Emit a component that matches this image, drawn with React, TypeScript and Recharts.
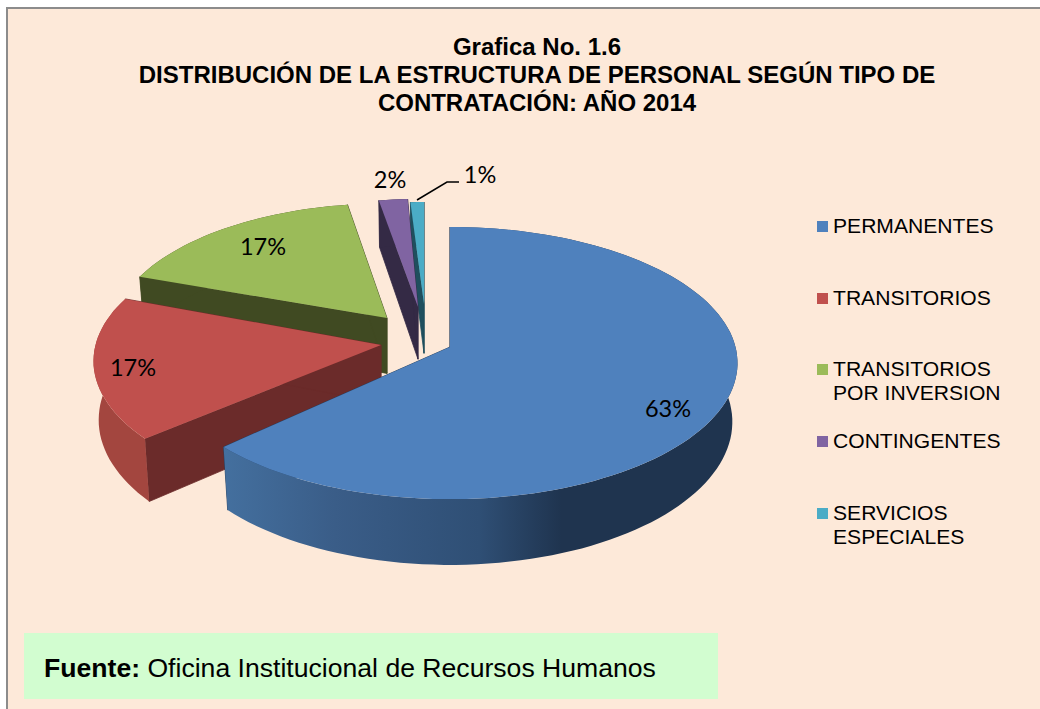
import React from "react"
import { PieChart, Pie, Legend } from "recharts"

const categories = ["PERMANENTES", "TRANSITORIOS", "TRANSITORIOS POR INVERSION", "CONTINGENTES", "SERVICIOS ESPECIALES"]
const shares = [63, 17, 17, 2, 1]
const titleLines = ["Grafica No. 1.6", "DISTRIBUCIÓN DE LA ESTRUCTURA DE PERSONAL SEGÚN TIPO DE", "CONTRATACIÓN: AÑO 2014"]

const faceColors = ["#4f81bd", "#c0504d", "#9bbb59", "#8064a2", "#4bacc6"]
const edgeColors = ["#254061", "#6b2b2a", "#404a22", "#342a45", "#1f4f5e"]
const rimColors = ["url(#blueRim)", "#a3463f", "#404a22", "#342a45", "#1f4f5e"]

// slice offset from the pie centre (exploded pieces), scale for the ones further back,
// and a small turn because excel's 3d view skews the edges a bit
const explode = [
  { dx: 0, dy: 0, scale: 1, turn: 0 },
  { dx: -69, dy: -2, scale: 1, turn: -3 },
  { dx: -63, dy: -29, scale: 0.955, turn: -1.5 },
  { dx: -32, dy: -40, scale: 0.9, turn: -1 },
  { dx: -26, dy: -43, scale: 0.85, turn: 0 },
]
const labelSpots = [
  { x: 218, y: 61 },
  { x: -317, y: 20 },
  { x: -187, y: -101 },
  { x: -60, y: -168 },
  { x: 30, y: -173 },
]

// drawing order has to be back to front, so the pie runs counter-clockwise from the last slice
const pieData = categories
  .map((name, i) => ({ name, value: shares[i], fill: faceColors[i] }))
  .reverse()

const PIE_CX = 450
const PIE_CY = 347
const RADIUS = 285.5
const TILT = 0.47
const PERSPECTIVE = 0.118
const DEPTH = 58
const FONT = "'Liberation Sans', Arial, sans-serif"

function project(angle: number, radius: number) {
  const rad = (angle * Math.PI) / 180
  const u = Math.cos(rad)
  const v = -Math.sin(rad)
  const s = 1 / (1 - PERSPECTIVE * v)
  return { x: radius * u * s, y: radius * TILT * v * s, s }
}

function SliceShape(props: any) {
  const { cx, cy, outerRadius, name, fill } = props
  const idx = categories.indexOf(name)
  const { dx, dy, scale, turn } = explode[idx]
  const startAngle = props.startAngle + turn
  const endAngle = props.endAngle + turn
  const ax = cx + dx
  const ay = cy + dy
  const r = outerRadius * scale
  const depth = DEPTH * scale

  const top = (a: number) => {
    const p = project(a, r)
    return [ax + p.x, ay + p.y]
  }
  const bottom = (a: number) => {
    const p = project(a, r)
    return [ax + p.x * 0.982, ay + p.y + depth * p.s]
  }
  const angles: number[] = []
  const steps = Math.max(2, Math.ceil((endAngle - startAngle) / 2))
  for (let i = 0; i <= steps; i++) angles.push(startAngle + ((endAngle - startAngle) * i) / steps)

  const pts = (list: number[][]) => list.map((p) => p[0].toFixed(1) + "," + p[1].toFixed(1)).join(" ")
  const wall = (a: number) => pts([[ax, ay], top(a), bottom(a), [ax, ay + depth]])
  const rimWall = pts([...angles.map(top), ...angles.slice().reverse().map(bottom)])
  const face = pts([[ax, ay], ...angles.map(top)])
  const edge = edgeColors[idx]

  return (
    <g>
      <defs>
        <linearGradient id="blueRim" gradientUnits="userSpaceOnUse" x1="221" y1="0" x2="737" y2="0">
          <stop offset="0" stopColor="#44709f" />
          <stop offset="0.22" stopColor="#3a5d88" />
          <stop offset="0.5" stopColor="#2f4f75" />
          <stop offset="0.66" stopColor="#1f344f" />
          <stop offset="1" stopColor="#1f344f" />
        </linearGradient>
      </defs>
      <polygon points={wall(endAngle)} fill={edge} stroke={edge} strokeWidth={0.8} />
      <polygon points={wall(startAngle)} fill={edge} stroke={edge} strokeWidth={0.8} />
      <polygon points={rimWall} fill={rimColors[idx]} />
      <polygon points={face} fill={fill} />
    </g>
  )
}

function SliceLabel(props: any) {
  const { cx, cy, percent, name } = props
  const idx = categories.indexOf(name)
  const spot = labelSpots[idx]
  const isSmallest = idx === categories.length - 1
  return (
    <g>
      {isSmallest && (
        <polyline
          points={`${cx - 33},${cy - 147} ${cx - 3},${cy - 165} ${cx + 9},${cy - 165}`}
          fill="none"
          stroke="#000"
          strokeWidth={1.5}
        />
      )}
      <text
        x={cx + spot.x}
        y={cy + spot.y}
        textAnchor="middle"
        dominantBaseline="central"
        fontFamily="Lato, sans-serif"
        fontSize={23.5}
        fill="#000"
      >
        {Math.round(percent * 100) + "%"}
      </text>
    </g>
  )
}

function LegendList(props: any) {
  const items = [...(props.payload || [])].sort(
    (a: any, b: any) => categories.indexOf(a.value) - categories.indexOf(b.value)
  )
  return (
    <div style={{ fontFamily: FONT, fontSize: 21.1, lineHeight: "24px", color: "#000" }}>
      {items.map((item: any) => (
        <div key={item.value} style={{ position: "relative", height: 71.7, paddingLeft: 16, width: 176 }}>
          <span
            style={{ position: "absolute", left: 0, top: 7, width: 11, height: 11, background: item.color }}
          />
          {item.value}
        </div>
      ))}
    </div>
  )
}

export default function App() {
  return (
    <div style={{ position: "absolute", left: 0, top: 0, width: 1040, height: 709, overflow: "hidden", background: "#fff" }}>
      <div
        style={{
          position: "absolute",
          left: 6,
          top: 7,
          width: 1100,
          height: 800,
          background: "#fde9d9",
          border: "2px solid #8c8c8c",
        }}
      />
      {titleLines.map((line, i) => (
        <div
          key={line}
          style={{
            position: "absolute",
            left: 0,
            width: 1074,
            top: 35 + i * 28,
            textAlign: "center",
            fontFamily: FONT,
            fontWeight: "bold",
            fontSize: 24,
            lineHeight: "24px",
            color: "#000",
            whiteSpace: "nowrap",
          }}
        >
          {line}
        </div>
      ))}
      <div style={{ position: "absolute", left: 0, top: 0 }}>
        <PieChart width={1040} height={709} margin={{ top: 0, right: 0, bottom: 0, left: 0 }}>
          <Pie
            data={pieData}
            dataKey="value"
            nameKey="name"
            cx={PIE_CX}
            cy={PIE_CY}
            innerRadius={0}
            outerRadius={RADIUS}
            startAngle={90}
            endAngle={450}
            stroke="none"
            shape={SliceShape}
            label={SliceLabel}
            labelLine={false}
            isAnimationActive={false}
          />
          <Legend
            layout="vertical"
            content={LegendList}
            wrapperStyle={{ position: "absolute", left: 817, top: 214, width: 200, bottom: "auto", right: "auto" }}
          />
        </PieChart>
      </div>
      <div
        style={{
          position: "absolute",
          left: 24,
          top: 633,
          width: 694,
          height: 66,
          background: "#d2fdd0",
          fontFamily: FONT,
          fontSize: 26.6,
          lineHeight: "70px",
          paddingLeft: 20,
          boxSizing: "border-box",
          color: "#000",
        }}
      >
        <b>Fuente:</b> Oficina Institucional de Recursos Humanos
      </div>
    </div>
  )
}
